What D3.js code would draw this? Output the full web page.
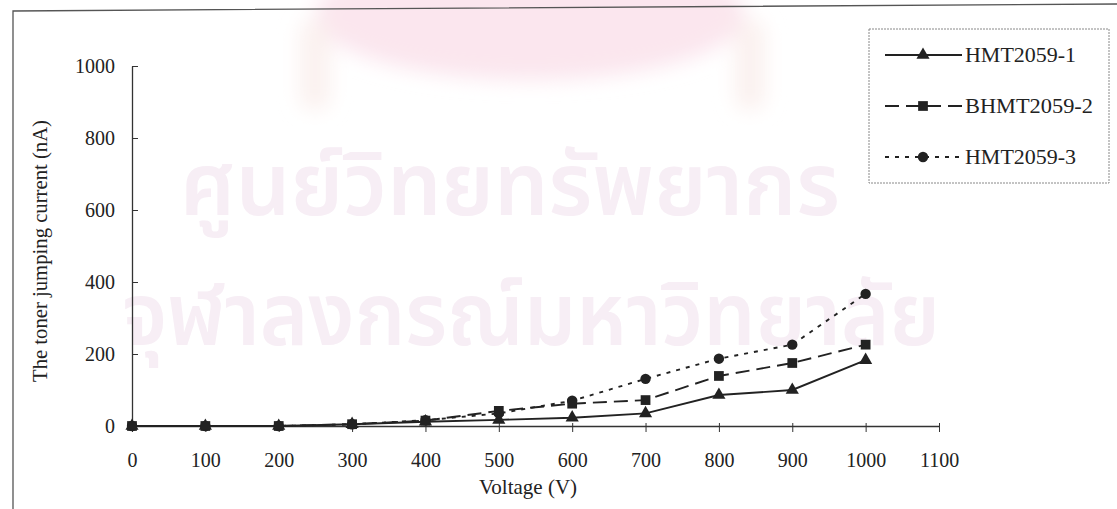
<!DOCTYPE html>
<html><head><meta charset="utf-8">
<script src="https://cdn.jsdelivr.net/npm/d3@7/dist/d3.min.js"></script>
<style>body{margin:0;background:#fff;}svg{display:block;}</style>
</head><body>
<svg id="c" width="1117" height="509"></svg>
<script>
const voltage = [0,100,200,300,400,500,600,700,800,900,1000];
const hmt1 = [0,0,0,5,12,17,23,35,86,100,183];
const bhmt2 = [0,0,0,5,15,42,62,72,139,175,226];
const hmt3 = [0,0,0,5,16,35,70,131,187,226,367];
const seriesNames = ["HMT2059-1","BHMT2059-2","HMT2059-3"];
const xTicks = [0,100,200,300,400,500,600,700,800,900,1000,1100];
const yTicks = [0,200,400,600,800,1000];
const xTitle = "Voltage (V)";
const yTitle = "The toner jumping current (nA)";
const watermark = ["ศูนย์วิทยทรัพยากร","จุฬาลงกรณ์มหาวิทยาลัย"];

const svg = d3.select("#c");
const font = "'Liberation Serif','Times New Roman',serif";

// faint watermark emblem
const defs = svg.append("defs");
defs.append("filter").attr("id","blur").append("feGaussianBlur").attr("stdDeviation",10);
const wm = svg.append("g").attr("filter","url(#blur)");
wm.append("ellipse").attr("cx",530).attr("cy",15).attr("rx",215).attr("ry",65).attr("fill","#fbe6ee");
wm.append("rect").attr("x",300).attr("y",20).attr("width",30).attr("height",90).attr("rx",12).attr("fill","#fbf1ef");
wm.append("rect").attr("x",735).attr("y",20).attr("width",30).attr("height",90).attr("rx",12).attr("fill","#fbf1ef");

const wmFont = "'Noto Sans Thai','Noto Sans',sans-serif";
svg.append("text").attr("x",180).attr("y",215)
  .attr("font-family",wmFont).attr("font-size",88).attr("font-weight",600)
  .attr("textLength",660).attr("lengthAdjust","spacingAndGlyphs")
  .attr("fill","#f7eef5").text(watermark[0]);
svg.append("text").attr("x",122).attr("y",345)
  .attr("font-family",wmFont).attr("font-size",88).attr("font-weight",600)
  .attr("textLength",818).attr("lengthAdjust","spacingAndGlyphs")
  .attr("fill","#f7eef5").text(watermark[1]);

// outer frame (slightly skewed scan)
svg.append("path").attr("d","M13,520 L13,11 L1117,4").attr("fill","none").attr("stroke","#555").attr("stroke-width",1.3);

const x = d3.scaleLinear().domain([0,1100]).range([132,939]);
const y = d3.scaleLinear().domain([0,1000]).range([426,66]);

// axes
const xa = svg.append("g").attr("transform",`translate(0,${y(0)})`)
  .call(d3.axisBottom(x).tickValues(xTicks).tickSize(6).tickSizeOuter(0).tickPadding(21).tickFormat(d3.format("d")));
xa.select(".domain").attr("stroke","#333").attr("stroke-width",1.3);
xa.selectAll(".tick line").attr("stroke","#333").attr("y1",-3);
xa.selectAll(".tick text").attr("font-family",font).attr("font-size",20).attr("fill","#222");

const ya = svg.append("g").attr("transform",`translate(${x(0)},0)`)
  .call(d3.axisLeft(y).tickValues(yTicks).tickSize(6).tickSizeOuter(0).tickPadding(11).tickFormat(d3.format("d")));
ya.select(".domain").attr("stroke","#333").attr("stroke-width",1.3);
ya.selectAll(".tick line").attr("stroke","#333").attr("x2",6);
ya.selectAll(".tick text").attr("font-family",font).attr("font-size",20).attr("fill","#222");

svg.append("text").attr("x",528).attr("y",494).attr("text-anchor","middle")
  .attr("font-family",font).attr("font-size",21).attr("fill","#222").text(xTitle);
svg.append("text").attr("transform","translate(47,251) rotate(-90)").attr("text-anchor","middle")
  .attr("font-family",font).attr("font-size",21).attr("textLength",262).attr("lengthAdjust","spacingAndGlyphs")
  .attr("fill","#222").text(yTitle);

const series = [
  {name:seriesNames[0], vals:hmt1, dash:null, sym:d3.symbolTriangle, size:75},
  {name:seriesNames[1], vals:bhmt2, dash:"14,7", sym:d3.symbolSquare, size:95},
  {name:seriesNames[2], vals:hmt3, dash:"4,6", sym:d3.symbolCircle, size:85}
];
const line = d3.line().x(d=>x(d[0])).y(d=>y(d[1]));
series.forEach(s=>{
  const pts = voltage.map((v,i)=>[v,s.vals[i]]);
  svg.append("path").datum(pts).attr("d",line).attr("fill","none")
    .attr("stroke","#222").attr("stroke-width",1.9).attr("stroke-dasharray",s.dash);
});
series.slice().reverse().forEach(s=>{
  const pts = voltage.map((v,i)=>[v,s.vals[i]]);
  svg.append("g").selectAll("path").data(pts).join("path")
    .attr("transform",d=>`translate(${x(d[0])},${y(d[1])})`)
    .attr("d",d3.symbol().type(s.sym).size(s.size)).attr("fill","#222");
});

// legend
const lg = svg.append("g");
lg.append("rect").attr("x",869).attr("y",29).attr("width",240).attr("height",154)
  .attr("fill","#fff").attr("stroke","#888").attr("stroke-dasharray","2,1").attr("stroke-width",1);
series.forEach((s,i)=>{
  const yy = 55 + i*51;
  lg.append("line").attr("x1",885).attr("x2",962).attr("y1",yy).attr("y2",yy)
    .attr("stroke","#222").attr("stroke-width",1.9).attr("stroke-dasharray",s.dash);
  lg.append("path").attr("transform",`translate(923,${yy})`).attr("d",d3.symbol().type(s.sym).size(s.size)).attr("fill","#222");
  lg.append("text").attr("x",965).attr("y",yy+7).attr("font-family",font).attr("font-size",21)
    .attr("textLength", i===1 ? 128 : 111).attr("lengthAdjust","spacingAndGlyphs")
    .attr("fill","#222").text(s.name);
});
</script>
</body></html>
